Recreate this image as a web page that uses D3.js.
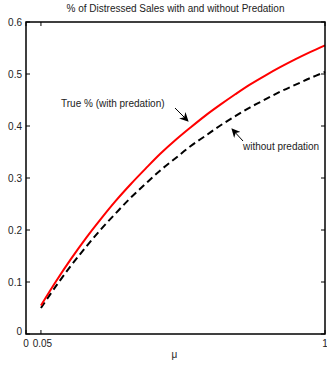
<!DOCTYPE html>
<html>
<head>
<meta charset="utf-8">
<script src="https://cdn.jsdelivr.net/npm/d3@7"></script>
<style>
  html, body { margin: 0; padding: 0; background: #fff; }
  svg { display: block; font-family: "Liberation Sans", Arial, sans-serif; }
</style>
</head>
<body>
<svg id="chart" width="327" height="367"></svg>
<script>
// mu values on the horizontal axis
const mu = [0.05, 0.1, 0.15, 0.2, 0.25, 0.3, 0.35, 0.4, 0.45, 0.5,
            0.55, 0.6, 0.65, 0.7, 0.75, 0.8, 0.85, 0.9, 0.95, 1.0];
// share of distressed sales, with predation
const withPredation = [0.055, 0.101, 0.144, 0.184, 0.221, 0.256, 0.288, 0.318, 0.347, 0.373,
                       0.397, 0.420, 0.441, 0.461, 0.480, 0.497, 0.513, 0.528, 0.542, 0.555];
// share of distressed sales, without predation
const withoutPredation = [0.050, 0.092, 0.131, 0.167, 0.201, 0.232, 0.262, 0.289, 0.315, 0.338,
                          0.361, 0.381, 0.401, 0.419, 0.436, 0.451, 0.466, 0.479, 0.492, 0.504];
const xTicks = [0, 0.05, 1];
const xTickLabels = ["0", "0.05", "1"];
const yTicks = [0, 0.1, 0.2, 0.3, 0.4, 0.5, 0.6];
const yTickLabels = ["0", "0.1", "0.2", "0.3", "0.4", "0.5", "0.6"];

(function () {
const svg = d3.select("#chart");
const plot = { left: 26, right: 325, top: 22, bottom: 334 };

const x = d3.scaleLinear().domain([0, 1]).range([plot.left, plot.right]);
const y = d3.scaleLinear().domain([0, 0.6]).range([plot.bottom, plot.top]);

const tickLen = 4;
const fontSize = 10;

// title
svg.append("text")
  .attr("x", (plot.left + plot.right) / 2).attr("y", 12)
  .attr("text-anchor", "middle")
  .attr("font-size", 10)
  .attr("fill", "#222")
  .text("% of Distressed Sales with and without Predation");

// inward ticks on all four sides
const g = svg.append("g");
yTicks.forEach((t, i) => {
  g.append("line").attr("x1", plot.left).attr("x2", plot.left + tickLen)
    .attr("y1", y(t)).attr("y2", y(t)).attr("stroke", "#000").attr("stroke-width", 1);
  g.append("line").attr("x1", plot.right).attr("x2", plot.right - tickLen)
    .attr("y1", y(t)).attr("y2", y(t)).attr("stroke", "#000").attr("stroke-width", 1);
  g.append("text").attr("x", plot.left - 4).attr("y", y(t) + (t === 0 ? 1 : 3.5))
    .attr("text-anchor", "end").attr("font-size", fontSize).attr("fill", "#222")
    .text(yTickLabels[i]);
});
xTicks.forEach((t, i) => {
  g.append("line").attr("x1", x(t)).attr("x2", x(t))
    .attr("y1", plot.bottom).attr("y2", plot.bottom - tickLen).attr("stroke", "#000").attr("stroke-width", 1);
  g.append("line").attr("x1", x(t)).attr("x2", x(t))
    .attr("y1", plot.top).attr("y2", plot.top + tickLen).attr("stroke", "#000").attr("stroke-width", 1);
  g.append("text").attr("x", x(t) + (t === 0.05 ? 1.5 : 0)).attr("y", plot.bottom + 13)
    .attr("text-anchor", "middle").attr("font-size", fontSize).attr("fill", "#222")
    .text(xTickLabels[i]);
});

// x-axis label
svg.append("text")
  .attr("x", (plot.left + plot.right) / 2 - 1).attr("y", plot.bottom + 24)
  .attr("text-anchor", "middle").attr("font-size", fontSize).attr("fill", "#222")
  .text("μ");

// curves
const line = d3.line().x(d => x(d[0])).y(d => y(d[1])).curve(d3.curveCatmullRom);
svg.append("path")
  .datum(mu.map((m, i) => [m, withoutPredation[i]]))
  .attr("d", line).attr("fill", "none")
  .attr("stroke", "#000").attr("stroke-width", 2)
  .attr("stroke-dasharray", "7,4");
svg.append("path")
  .datum(mu.map((m, i) => [m, withPredation[i]]))
  .attr("d", line).attr("fill", "none")
  .attr("stroke", "#ff0000").attr("stroke-width", 2);

// box frame
svg.append("rect")
  .attr("x", plot.left).attr("y", plot.top)
  .attr("width", plot.right - plot.left).attr("height", plot.bottom - plot.top)
  .attr("fill", "none").attr("stroke", "#000").attr("stroke-width", 1.5);

// annotations with arrows
svg.append("defs").append("marker")
  .attr("id", "head").attr("viewBox", "0 0 10 10")
  .attr("refX", 9).attr("refY", 5)
  .attr("markerWidth", 9).attr("markerHeight", 9)
  .attr("markerUnits", "userSpaceOnUse")
  .attr("orient", "auto")
  .append("path").attr("d", "M0,0 L10,5 L0,10 L3,5 Z").attr("fill", "#000");

svg.append("text").attr("x", 61).attr("y", 107)
  .attr("font-size", fontSize).attr("fill", "#222")
  .text("True % (with predation)");
svg.append("line")
  .attr("x1", 175).attr("y1", 108).attr("x2", 188).attr("y2", 121)
  .attr("stroke", "#000").attr("stroke-width", 1).attr("marker-end", "url(#head)");

svg.append("text").attr("x", 243).attr("y", 150)
  .attr("font-size", fontSize).attr("fill", "#222")
  .text("without predation");
svg.append("line")
  .attr("x1", 243).attr("y1", 141).attr("x2", 232).attr("y2", 129)
  .attr("stroke", "#000").attr("stroke-width", 1).attr("marker-end", "url(#head)");
})();
</script>
</body>
</html>
